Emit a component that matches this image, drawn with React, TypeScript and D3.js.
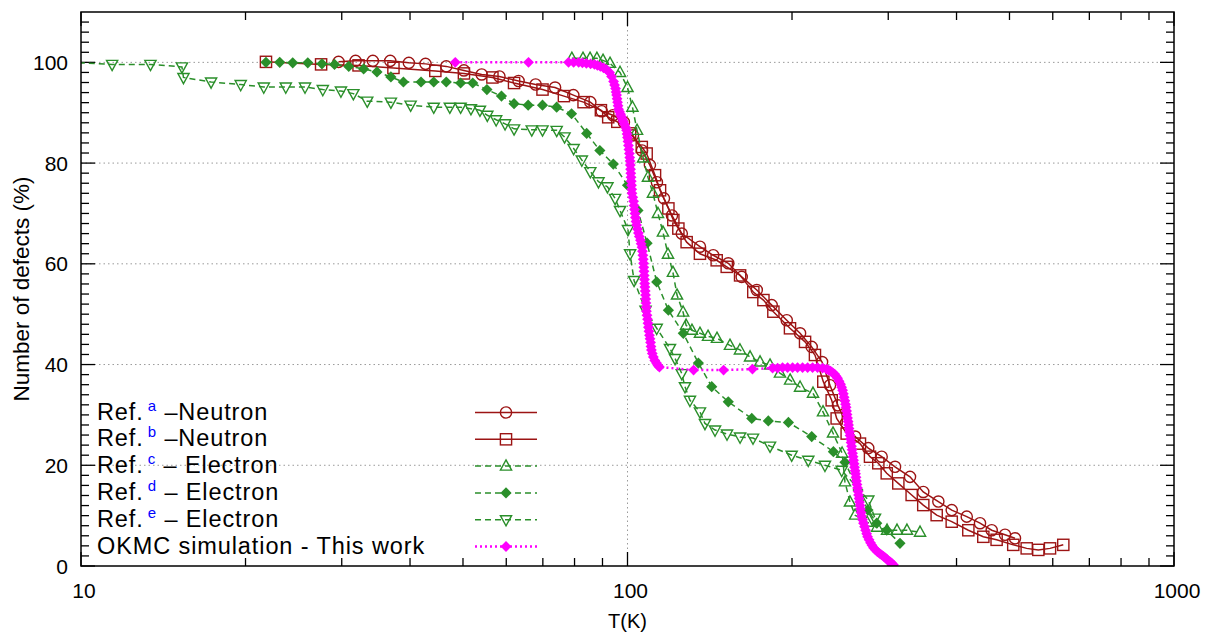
import React from 'react';
import * as d3 from 'd3';

type Pt = [number, number];

// Ref a - Neutron (circles)
const refA: Pt[] = [
  [29.6, 100.1], [31.8, 100.3], [34.2, 100.3], [36.8, 100.3], [39.8, 99.9], [42.7, 99.7],
  [46.6, 99.2], [50.2, 98.4], [54.1, 97.6], [58.3, 97.2], [63.2, 96.3], [67.9, 95.6],
  [73.7, 95.0], [79.6, 93.5], [85.5, 92.1], [89.7, 90.3], [94.1, 89.5], [98.5, 88.1],
  [102.3, 85.5], [106.3, 82.5], [109.9, 79.6], [113.2, 76.2], [116.6, 73.0], [120.6, 69.6],
  [125.7, 66.0], [135.7, 63.4], [143.5, 61.7], [152.9, 60.1], [161.8, 57.4], [172.4, 54.8],
  [183.6, 51.8], [195.6, 48.8], [206.9, 46.2], [217.3, 43.5], [227, 40.5], [234.7, 35.9],
  [242.7, 31.9], [251.1, 28.4], [260.9, 25.7], [275.8, 23.4], [291.8, 21.7], [308.7, 19.7],
  [328.8, 17.7], [347.7, 14.7], [370.5, 12.8], [392, 11.1], [417.6, 9.8], [441.6, 8.5],
  [463.9, 7.1], [490.7, 6.2], [511.7, 5.5],
];

// Ref b - Neutron (squares)
const refB: Pt[] = [
  [21.8, 100.1], [27.5, 99.6], [32.2, 99.4], [37.3, 98.9], [44.5, 98.3], [50.2, 97.8],
  [56.6, 97.0], [62.0, 95.9], [69.9, 94.6], [76.5, 93.3], [83.1, 92.1], [89.4, 90.5],
  [92.2, 89.1], [95.8, 88.2], [101.1, 85.9], [106.2, 83.2], [108.4, 81.9], [112.3, 77.6],
  [114.7, 74.6], [118.8, 71.0], [121.3, 68.7], [123.9, 67.0], [128.3, 64.3], [135.7, 62.0],
  [145.6, 60.7], [151.9, 59.4], [160.7, 57.7], [169.9, 54.4], [177.3, 52.8], [184.9, 50.5],
  [198.3, 47.2], [211.3, 44.5], [220.3, 41.9], [228.2, 36.6], [236.4, 32.9], [241.4, 29.3],
  [251.8, 26.3], [266.3, 24.3], [277.8, 21.7], [287.7, 20.4], [298.1, 18.4], [313, 16.4],
  [331.1, 14.1], [347.7, 12.1], [367.9, 10.1], [392, 8.8], [420.4, 7.1], [447.8, 5.8],
  [473.6, 5.2], [508, 4.2], [537.6, 3.5], [564.6, 3.2], [593.1, 3.5], [627.2, 4.2],
];

// Ref c - Electron (up triangles)
const refC: Pt[] = [
  [79.1, 100.8], [82.9, 100.8], [85.4, 100.8], [87.9, 100.8], [90.2, 100.4], [92.9, 99.8],
  [96.9, 98], [100, 95], [102.1, 91.1], [104.1, 86.5], [106.8, 81], [109, 77.2],
  [111.3, 74], [113.7, 70], [116.1, 66.3], [118.6, 61.9], [121.1, 58.3], [123.2, 53.8],
  [126.4, 50.4], [128, 47.8], [131.2, 46.8], [135.7, 46.2], [140.4, 45.6], [145.8, 45.2],
  [154, 43.8], [160.6, 42.9], [167.6, 41.5], [174.8, 40.5], [182.3, 39.9], [190.1, 38.3],
  [198.4, 36.9], [206.9, 35.5], [218.5, 34.3], [227.9, 30.6], [237.7, 26.4], [247, 22.4],
  [250, 16.7], [255.3, 12.7], [260.9, 10.1], [274.4, 8.7], [286.2, 7.7], [298.5, 7.1],
  [311.3, 7.1], [324.6, 7.1], [343, 6.7],
];

// Ref d - Electron (filled diamonds)
const refD: Pt[] = [
  [21.8, 100], [23.1, 100], [24.4, 99.9], [26.0, 99.9], [27.6, 99.7], [29.1, 99.6],
  [30.9, 99.2], [32.9, 98.7], [34.8, 98.1], [36.9, 97.1], [38.9, 96.1], [41.9, 96.1],
  [44.2, 96.1], [46.6, 96.1], [49.5, 95.9], [52.1, 95.9], [55.3, 94.6], [58.8, 93.3],
  [62.0, 91.8], [65.8, 91.5], [69.9, 91.5], [74.2, 91.1], [79, 89.8], [84.2, 85.9],
  [89, 82.5], [94.2, 79.8], [100, 75.6], [104.5, 70.6], [108.6, 64.1], [113.1, 56.4],
  [118.8, 50.8], [126.5, 46.2], [134.8, 40.3], [142.6, 35.6], [152.9, 32.6], [168.8, 29.3],
  [181, 28.8], [197, 28.5], [217.3, 25.7], [238.1, 22.7], [250, 20.6], [264.1, 15.1],
  [275.4, 11.1], [285.8, 8.5], [298.1, 7.1], [315.2, 4.5],
];

// Ref e - Electron (down triangles)
const refE: Pt[] = [
  [9.5, 100], [11.4, 99.6], [13.4, 99.6], [15.3, 99.1], [15.4, 97.0], [17.3, 96.1],
  [19.6, 95.6], [21.6, 95.1], [23.7, 95.1], [25.7, 95.1], [27.7, 94.6], [29.9, 94.3],
  [31.5, 93.8], [33.4, 92.3], [36.9, 92.1], [40.1, 91.5], [44.2, 91.1], [47.3, 91.1],
  [49.5, 91.1], [51.7, 90.8], [53.7, 90.5], [55.4, 89.5], [57.5, 88.6], [59.7, 87.8],
  [62.0, 86.8], [66.8, 86.6], [69.9, 86.6], [74.2, 86.5], [76.7, 85.2], [79.7, 82.9],
  [82.5, 80.6], [85.5, 78.3], [88.5, 76.3], [91.9, 75.3], [94.9, 73.0], [96.9, 70.6],
  [100.2, 66.8], [101.1, 62.0], [102.8, 56.7], [107.9, 50.8], [113.1, 47.2], [119.6, 43.2],
  [122.2, 41.2], [125.7, 38.2], [127.4, 35.6], [130.1, 32.9], [135.7, 30.6], [138.6, 28.3],
  [144.6, 27.0], [152.1, 26.2], [160.7, 25.6], [169.7, 25.4], [182.3, 23.8], [199.7, 22.0],
  [214.2, 21.0], [229.8, 20.0], [246.6, 19.0], [275.8, 13.1], [283.7, 9.5],
];

// OKMC simulation - This work
const okmc: Pt[] = [
  [48.4, 100], [65.9, 100], [78.0, 100], [79.7, 100], [81.4, 100], [82.7, 99.9],
  [84.1, 99.8], [85.6, 99.7], [87.0, 99.6], [88.1, 99.4], [89.2, 99.2], [90.4, 98.9],
  [91.5, 98.6], [92.7, 98.0], [93.5, 97.2], [94.3, 96.2], [94.7, 95.5], [95.1, 94.8],
  [95.3, 94.1], [95.5, 93.5], [95.7, 92.8], [95.9, 92.1], [96.1, 91.4], [96.3, 90.7],
  [96.7, 90.2], [97.1, 89.7], [97.5, 89.2], [97.9, 88.7], [98.3, 88.2], [98.7, 87.7],
  [99.2, 87.1], [99.6, 86.5], [99.8, 85.8], [100, 85.1], [100.2, 84.3], [100.4, 83.5],
  [100.6, 82.7], [100.8, 81.9], [100.95, 81.1], [101.1, 80.4], [101.2, 79.6], [101.3, 78.8],
  [101.4, 78.0], [101.5, 77.2], [101.6, 76.4], [101.7, 75.6], [101.8, 74.8], [101.9, 74.0],
  [102.25, 73.2], [102.6, 72.4], [102.8, 71.6], [103.0, 70.8], [103.2, 70.0], [103.4, 69.2],
  [103.65, 68.4], [103.9, 67.7], [104.3, 66.9], [104.7, 66.1], [105.1, 65.4], [105.6, 64.7],
  [105.9, 64.0], [106.3, 63.3], [106.5, 62.5], [106.7, 61.7], [106.85, 60.9], [107.0, 60.1],
  [107.1, 59.3], [107.2, 58.5], [107.3, 57.7], [107.4, 56.9], [107.5, 56.1], [107.6, 55.4],
  [107.75, 54.6], [107.9, 53.8], [108.0, 53.0], [108.1, 52.2], [108.2, 51.4], [108.3, 50.6],
  [108.55, 49.8], [108.8, 49.0], [109.0, 48.2], [109.2, 47.4], [109.45, 46.6], [109.7, 45.8],
  [109.95, 45.1], [110.2, 44.4], [110.4, 43.6], [110.6, 42.9], [111.0, 42.2], [111.5, 41.5],
  [112.2, 40.8], [113.0, 40.3], [113.7, 39.8], [114.4, 39.5],
  [132.1, 38.9], [149.9, 38.9], [169.3, 39.1], [184.3, 39.3], [188.2, 39.3],
  [192.2, 39.4], [196.3, 39.4], [200.5, 39.4], [204.7, 39.4], [209.1, 39.4], [213.6, 39.4],
  [218.1, 39.4], [222.7, 39.4], [227.5, 39.3], [231.3, 39.1], [233.3, 38.9], [235.3, 38.7],
  [237.3, 38.4], [239.3, 38.1], [240.8, 37.7], [242.3, 37.3], [243.9, 36.7], [245.4, 36.1],
  [246.5, 35.5], [247.5, 34.9], [248.3, 34.2], [249.1, 33.5], [249.9, 32.8], [250.6, 32.1],
  [251.2, 31.5], [251.7, 30.8], [252.2, 30.1], [252.7, 29.4], [253.3, 28.7], [253.8, 28.0],
  [254.3, 27.3], [254.8, 26.6], [255.4, 25.9], [255.9, 25.2], [256.5, 24.5], [257.0, 23.8],
  [257.6, 23.1], [258.1, 22.4], [258.7, 21.7], [259.2, 21.0], [259.8, 20.3], [260.3, 19.6],
  [260.9, 18.9], [261.4, 18.3], [261.9, 17.6], [262.4, 16.9], [263.0, 16.2], [263.6, 15.5],
  [264.2, 14.8], [264.7, 14.1], [265.3, 13.4], [265.8, 12.7], [266.4, 12.0], [266.9, 11.3],
  [267.5, 10.6], [268.1, 9.9], [269.2, 9.2], [270.3, 8.5], [271.5, 7.8], [272.7, 7.1],
  [273.9, 6.4], [275.0, 5.8], [276.7, 5.2], [278.4, 4.6], [280.2, 4.1], [282.0, 3.6],
  [284.4, 3.2], [286.8, 2.8], [289.2, 2.5], [291.7, 2.2], [294.1, 1.9], [296.6, 1.6],
  [298.5, 1.3], [300.4, 1.0], [302.3, 0.8], [304.2, 0.6], [306.8, 0.2],
];

const xMajorTicks = [10, 100, 1000];
const xMinorTicks = [20, 30, 40, 50, 60, 70, 80, 90, 200, 300, 400, 500, 600, 700, 800, 900];
const yMajorTicks = [0, 20, 40, 60, 80, 100];
const yMinorTicks = [2, 4, 6, 8, 10, 12, 14, 16, 18, 22, 24, 26, 28, 30, 32, 34, 36, 38, 42, 44, 46, 48, 50, 52, 54, 56, 58, 62, 64, 66, 68, 70, 72, 74, 76, 78, 82, 84, 86, 88, 90, 92, 94, 96, 98, 102, 104, 106, 108];
const yGridValues = [20, 40, 60, 80, 100];
const xGridValues = [100];

const legendSup = ['a', 'b', 'c', 'd', 'e', ''];
const legendPre = ['Ref.', 'Ref.', 'Ref.', 'Ref.', 'Ref.', 'OKMC simulation - This work'];
const legendPost = [' \u2013Neutron', ' \u2013Neutron', ' \u2013 Electron', ' \u2013 Electron', ' \u2013 Electron', ''];

const RED = '#9c1414';
const GREEN = '#2a8f2a';
const MAGENTA = '#ff00ff';
const FONT = "'Liberation Sans', Arial, Helvetica, sans-serif";

type MarkerType = 'circle' | 'square' | 'triUp' | 'triDown' | 'diamond' | 'smallDiamond';

function Marker({ type, cx, cy, color }: { type: MarkerType; cx: number; cy: number; color: string }) {
  const sw = 1.4;
  switch (type) {
    case 'circle':
      return <circle cx={cx} cy={cy} r={5.6} fill="none" stroke={color} strokeWidth={sw} />;
    case 'square':
      return <rect x={cx - 5.6} y={cy - 5.6} width={11.2} height={11.2} fill="none" stroke={color} strokeWidth={sw} />;
    case 'triUp':
      return <path d={`M${cx},${cy - 6.2}L${cx + 5.6},${cy + 4}L${cx - 5.6},${cy + 4}Z`} fill="none" stroke={color} strokeWidth={sw} />;
    case 'triDown':
      return <path d={`M${cx},${cy + 6.2}L${cx + 5.6},${cy - 4}L${cx - 5.6},${cy - 4}Z`} fill="none" stroke={color} strokeWidth={sw} />;
    case 'diamond':
      return <path d={`M${cx},${cy - 5.6}L${cx + 5.6},${cy}L${cx},${cy + 5.6}L${cx - 5.6},${cy}Z`} fill={color} stroke="none" />;
    case 'smallDiamond':
      return <path d={`M${cx},${cy - 5.4}L${cx + 5.4},${cy}L${cx},${cy + 5.4}L${cx - 5.4},${cy}Z`} fill={color} stroke="none" />;
  }
}

const series = [
  { data: refA, color: RED, dash: '', width: 1.5, marker: 'circle' as MarkerType },
  { data: refB, color: RED, dash: '', width: 1.5, marker: 'square' as MarkerType },
  { data: refC, color: GREEN, dash: '6,4', width: 1.5, marker: 'triUp' as MarkerType },
  { data: refD, color: GREEN, dash: '6,4', width: 1.5, marker: 'diamond' as MarkerType },
  { data: refE, color: GREEN, dash: '6,4', width: 1.5, marker: 'triDown' as MarkerType },
  { data: okmc, color: MAGENTA, dash: '2,3', width: 2.5, marker: 'smallDiamond' as MarkerType },
];

export default function App() {
  const L = 81, R = 1174, T = 12, B = 566;
  const x = d3.scaleLog().domain([10, 1000]).range([L, R]);
  const y = d3.scaleLinear().domain([0, 110]).range([B, T]);
  const line = d3.line<Pt>().x(d => x(d[0])).y(d => y(d[1]));
  const majorLen = 14, minorLen = 8;

  const legendBase0 = 419.5;
  const legendStep = 26.8;

  return (
    <svg width={1211} height={637} style={{ position: 'absolute', left: 0, top: 0, background: '#fff' }} fontFamily={FONT}>
      <defs>
        <clipPath id="plot">
          <rect x={L} y={T} width={R - L} height={B - T} />
        </clipPath>
      </defs>
      <rect x={0} y={0} width={1211} height={637} fill="#fff" />
      {/* grid */}
      {yGridValues.map(v => (
        <line key={'gy' + v} x1={L} x2={R} y1={y(v)} y2={y(v)} stroke="#9a9a9a" strokeWidth={1} strokeDasharray="1.5,3" />
      ))}
      {xGridValues.map(v => (
        <line key={'gx' + v} x1={x(v)} x2={x(v)} y1={T} y2={B} stroke="#9a9a9a" strokeWidth={1} strokeDasharray="1.5,3" />
      ))}
      {/* ticks */}
      <g stroke="#000" strokeWidth={1.3}>
        {xMajorTicks.map(v => (
          <g key={'xM' + v}>
            <line x1={x(v)} x2={x(v)} y1={B} y2={B - majorLen} />
            <line x1={x(v)} x2={x(v)} y1={T} y2={T + majorLen} />
          </g>
        ))}
        {xMinorTicks.map(v => (
          <g key={'xm' + v}>
            <line x1={x(v)} x2={x(v)} y1={B} y2={B - minorLen} />
            <line x1={x(v)} x2={x(v)} y1={T} y2={T + minorLen} />
          </g>
        ))}
        {yMajorTicks.map(v => (
          <g key={'yM' + v}>
            <line x1={L} x2={L + majorLen} y1={y(v)} y2={y(v)} />
            <line x1={R} x2={R - majorLen} y1={y(v)} y2={y(v)} />
          </g>
        ))}
        {yMinorTicks.map(v => (
          <g key={'ym' + v}>
            <line x1={L} x2={L + minorLen} y1={y(v)} y2={y(v)} />
            <line x1={R} x2={R - minorLen} y1={y(v)} y2={y(v)} />
          </g>
        ))}
      </g>
      {/* series */}
      <g clipPath="url(#plot)">
        {series.map((s, i) => (
          <g key={'s' + i}>
            <path d={line(s.data) || ''} fill="none" stroke={s.color} strokeWidth={s.width} strokeDasharray={s.dash || undefined} />
            {s.data.map((d, j) => (
              <Marker key={j} type={s.marker} cx={x(d[0])} cy={y(d[1])} color={s.color} />
            ))}
          </g>
        ))}
      </g>
      {/* frame */}
      <rect x={L} y={T} width={R - L} height={B - T} fill="none" stroke="#000" strokeWidth={1.5} />
      {/* tick labels */}
      {xMajorTicks.map(v => (
        <text key={'xl' + v} x={x(v) + 3} y={598} textAnchor="middle" fontSize={21} fill="#000">{String(v)}</text>
      ))}
      {yMajorTicks.map(v => (
        <text key={'yl' + v} x={68} y={y(v) + 7.5} textAnchor="end" fontSize={21} fill="#000">{String(v)}</text>
      ))}
      {/* axis titles */}
      <text x={x(100)} y={628} textAnchor="middle" fontSize={20} fill="#000">T(K)</text>
      <text transform={`translate(29,289) rotate(-90)`} textAnchor="middle" fontSize={22.5} fill="#000">Number of defects (%)</text>
      {/* legend */}
      {series.map((s, i) => {
        const by = legendBase0 + i * legendStep;
        const ly = by - 7;
        return (
          <g key={'lg' + i}>
            <text x={97} y={by} fontSize={23.5} letterSpacing={0.9} fill="#000">
              {legendPre[i]}
              {legendSup[i] ? (
                <tspan fill="#0000ff" fontSize={15} dx={4} dy={-9}>{legendSup[i]}</tspan>
              ) : null}
              {legendPost[i] ? <tspan dy={9}>{legendPost[i]}</tspan> : null}
            </text>
            <line x1={475} x2={537} y1={ly} y2={ly} stroke={s.color} strokeWidth={s.width} strokeDasharray={s.dash || undefined} />
            <Marker type={s.marker} cx={506} cy={ly} color={s.color} />
          </g>
        );
      })}
    </svg>
  );
}
